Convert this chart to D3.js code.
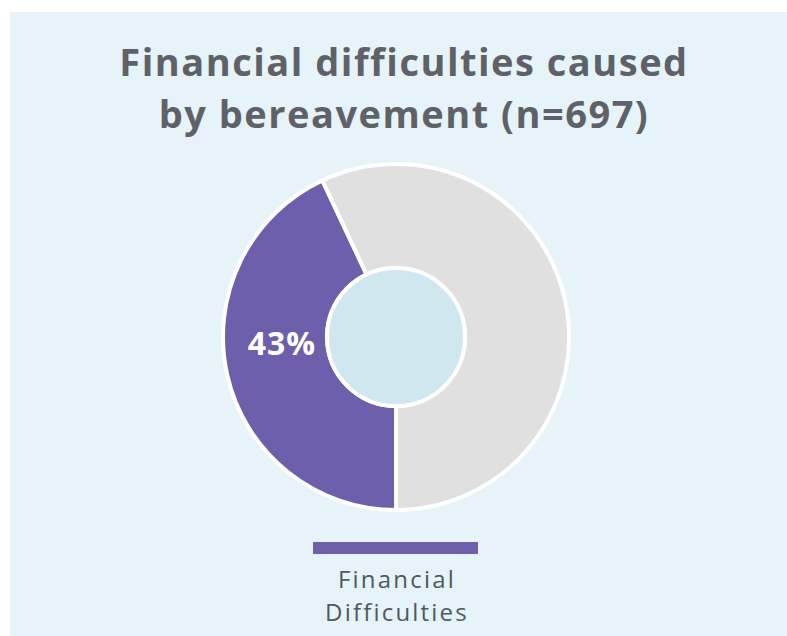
<!DOCTYPE html>
<html>
<head>
<meta charset="utf-8">
<script src="https://cdn.jsdelivr.net/npm/d3@7"></script>
<style>
  body { margin: 0; background: #ffffff; }
  svg { display: block; }
</style>
</head>
<body>
<div id="chart"></div>
<script>
const categories = ["Financial Difficulties", "Other"];
const values = [43, 57];
const labels = ["43%", ""];
const titleLines = ["Financial difficulties caused", "by bereavement (n=697)"];
const legendLines = ["Financial", "Difficulties"];

const width = 787;
const height = 636;
const cx = 396;
const cy = 337;
const outerR = 173;
const innerR = 69;

const color = d3.scaleOrdinal().domain(categories).range(["#6d5fab", "#e1e0e1"]);

const svg = d3.select("#chart")
  .append("svg")
  .attr("width", width)
  .attr("height", height);

// panel
svg.append("rect")
  .attr("x", 10)
  .attr("y", 12)
  .attr("width", width - 10)
  .attr("height", height - 12)
  .attr("fill", "#e6f3f8");

// title
svg.append("g")
  .selectAll("text")
  .data(titleLines)
  .enter()
  .append("text")
  .attr("x", 404)
  .attr("y", (d, i) => 76 + i * 52)
  .attr("text-anchor", "middle")
  .style("font-family", "'Open Sans', sans-serif")
  .style("font-weight", "bold")
  .style("font-size", "38px")
  .style("letter-spacing", "1.5px")
  .style("fill", "#5e6268")
  .text((d) => d);

const pie = d3.pie()
  .sort(null)
  .startAngle(Math.PI)
  .endAngle(3 * Math.PI);

const arc = d3.arc().innerRadius(innerR).outerRadius(outerR);
const labelArc = d3.arc().innerRadius(innerR).outerRadius(outerR);

const arcs = pie(values);

const g = svg.append("g").attr("transform", `translate(${cx}, ${cy})`);

g.selectAll("path")
  .data(arcs)
  .enter()
  .append("path")
  .attr("d", arc)
  .attr("fill", (d, i) => color(categories[i]))
  .attr("stroke", "#ffffff")
  .attr("stroke-width", 4);

// centre hole
g.append("circle")
  .attr("r", innerR)
  .attr("fill", "#cfe7ee")
  .attr("stroke", "#ffffff")
  .attr("stroke-width", 4);

g.selectAll(".label")
  .data(arcs)
  .enter()
  .append("text")
  .attr("class", "label")
  .attr("x", (d) => labelArc.centroid(d)[0] + 4)
  .attr("y", (d) => labelArc.centroid(d)[1] - 17)
  .attr("text-anchor", "middle")
  .attr("dominant-baseline", "middle")
  .style("font-family", "'Open Sans', sans-serif")
  .style("font-weight", "bold")
  .style("font-size", "32px")
  .style("letter-spacing", "1px")
  .style("fill", "#ffffff")
  .text((d, i) => labels[i]);

// legend
svg.append("rect")
  .attr("x", 313)
  .attr("y", 542)
  .attr("width", 165)
  .attr("height", 12)
  .attr("fill", color(categories[0]));

svg.append("g")
  .selectAll("text")
  .data(legendLines)
  .enter()
  .append("text")
  .attr("x", 397)
  .attr("y", (d, i) => 588 + i * 33)
  .attr("text-anchor", "middle")
  .style("font-family", "'Open Sans', sans-serif")
  .style("font-size", "24px")
  .style("letter-spacing", "2.2px")
  .style("fill", "#4f5962")
  .text((d) => d);
</script>
</body>
</html>
